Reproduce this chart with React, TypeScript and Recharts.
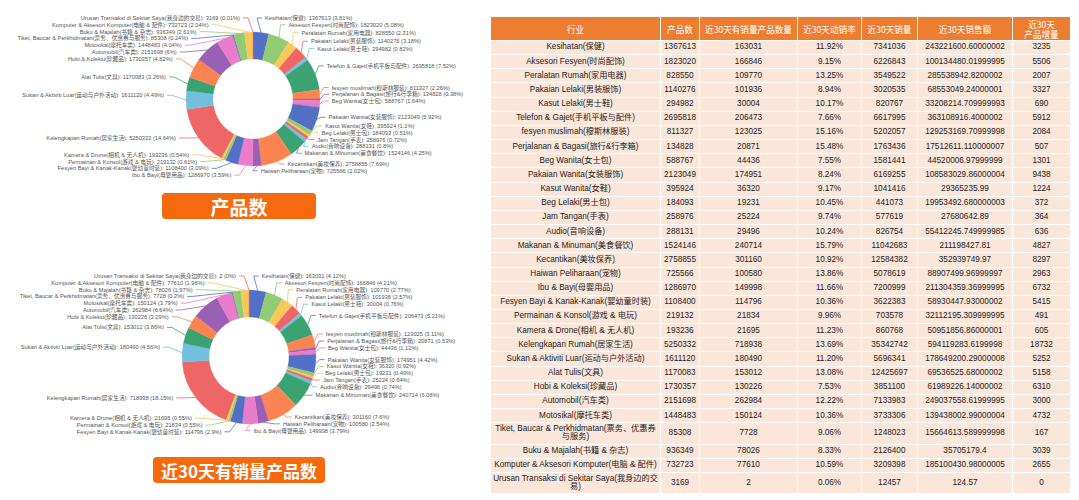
import React from 'react';
import { PieChart, Pie, Cell } from 'recharts';

// category names (same order in both donuts and the table)
const categories = [
  'Kesihatan(保健)',
  'Aksesori Fesyen(时尚配饰)',
  'Peralatan Rumah(家用电器)',
  'Pakaian Lelaki(男装服饰)',
  'Kasut Lelaki(男士鞋)',
  'Telefon & Gajet(手机平板与配件)',
  'fesyen muslimah(穆斯林服装)',
  'Perjalanan & Bagasi(旅行&行李箱)',
  'Beg Wanita(女士包)',
  'Pakaian Wanita(女装服饰)',
  'Kasut Wanita(女鞋)',
  'Beg Lelaki(男士包)',
  'Jam Tangan(手表)',
  'Audio(音响设备)',
  'Makanan & Minuman(美食餐饮)',
  'Kecantikan(美妆保养)',
  'Haiwan Peliharaan(宠物)',
  'Ibu & Bayi(母婴用品)',
  'Fesyen Bayi & Kanak-Kanak(婴幼童时装)',
  'Permainan & Konsol(游戏 & 电玩)',
  'Kamera & Drone(相机 & 无人机)',
  'Kelengkapan Rumah(居家生活)',
  'Sukan & Aktiviti Luar(运动与户外活动)',
  'Alat Tulis(文具)',
  'Hobi & Koleksi(珍藏品)',
  'Automobil(汽车类)',
  'Motosikal(摩托车类)',
  'Tiket, Baucar & Perkhidmatan(票务、优惠券与服务)',
  'Buku & Majalah(书籍 & 杂志)',
  'Komputer & Aksesori Komputer(电脑 & 配件)',
  'Urusan Transaksi di Sekitar Saya(我身边的交易)',
];

const productCount = [
  1367613, 1823020, 828550, 1140276, 294982, 2695818, 811327, 134828, 588767, 2123049, 395924,
  184093, 258976, 288131, 1524146, 2758855, 725566, 1286970, 1108400, 219132, 193236, 5250332,
  1611120, 1170083, 1730357, 2151698, 1448483, 85308, 936349, 732723, 3169,
];

const activeCount = [
  163031, 166846, 109770, 101936, 30004, 206473, 123025, 20871, 44436, 174951, 36320, 19231,
  25224, 29496, 240714, 301160, 100580, 149998, 114796, 21834, 21695, 718938, 180490, 153012,
  130226, 262984, 150124, 7728, 78026, 77610, 2,
];

const activeRate = [
  '11.92%', '9.15%', '13.25%', '8.94%', '10.17%', '7.66%', '15.16%', '15.48%', '7.55%', '8.24%',
  '9.17%', '10.45%', '9.74%', '10.24%', '15.79%', '10.92%', '13.86%', '11.66%', '10.36%', '9.96%',
  '11.23%', '13.69%', '11.20%', '13.08%', '7.53%', '12.22%', '10.36%', '9.06%', '8.33%', '10.59%',
  '0.06%',
];

const sales30 = [
  7341036, 6226843, 3549522, 3020535, 820767, 6617995, 5202057, 1763436, 1581441, 6169255,
  1041416, 441073, 577619, 826754, 11042683, 12584382, 5078619, 7200999, 3622383, 703578, 860768,
  35342742, 5696341, 12425697, 3851100, 7133983, 3733306, 1248023, 2126400, 3209398, 12457,
];

// kept as text, the way the table prints them
const revenue30 = [
  '243221600.60000002', '100134480.01999995', '285538942.8200002', '68553049.24000001',
  '33208214.709999993', '363108916.4000002', '129253169.70999998', '17512611.110000007',
  '44520006.97999999', '108583029.86000004', '29365235.99', '19953492.680000003', '27680642.89',
  '55412245.749999985', '211198427.81', '352939749.97', '88907499.96999997', '211304359.36999995',
  '58930447.93000002', '32112195.309999995', '50951856.86000001', '594119283.6199998',
  '178649200.29000008', '69536525.68000002', '61989226.14000002', '249037558.61999995',
  '139438002.99000004', '15664613.589999998', '35705179.4', '185100430.98000005', '124.57',
];

const newProducts = [
  3235, 5506, 2007, 3327, 690, 5912, 2084, 507, 1301, 9438, 1224, 372, 364, 636, 4827, 8297, 2963,
  6732, 5415, 491, 605, 18732, 5252, 5158, 6310, 3000, 4732, 167, 3039, 2655, 0,
];

const tableHeaders = ['行业', '产品数', '近30天有销量产品数量', '近30天动销率', '近30天销量', '近30天销售额', '近30天\n产品增量'];
const chartTitles = ['产品数', '近30天有销量产品数'];

const PALETTE = ['#5470c6', '#91cc75', '#fac858', '#ee6666', '#73c0de', '#3ba272', '#fc8452', '#9a60b4', '#ea7ccc'];
const CJK_FONT = '"Noto Sans CJK SC", "Noto Sans", sans-serif';
const LATIN_FONT = '"Liberation Sans", "Noto Sans CJK SC", sans-serif';

const INNER = 40;
const OUTER = 67;
const LEN1 = 9;
const LEN2 = 5;
const GAP = 3;
const LINE_H = 6.8;
const RAD = Math.PI / 180;

interface LabelPos {
  dir: number;
  x0: number;
  y0: number;
  x: number;
  y: number;
}

// echarts-like outside label placement: stack labels per side, then bend them onto an ellipse
function layoutLabels(values: number[], cx: number, cy: number): LabelPos[] {
  const R = OUTER + LEN1;
  const total = values.reduce((a, b) => a + b, 0);
  let angle = 90;
  const items: LabelPos[] = values.map((v) => {
    const sweep = (v / total) * 360;
    const mid = angle - sweep / 2;
    angle -= sweep;
    const c = Math.cos(mid * RAD);
    const s = Math.sin(mid * RAD);
    const x0 = cx + R * c;
    const y0 = cy - R * s;
    return { dir: c < 0 ? -1 : 1, x0, y0, x: x0, y: y0 };
  });

  [-1, 1].forEach((dir) => {
    const side = items.filter((d) => d.dir === dir).sort((a, b) => a.y0 - b.y0);
    const groups: { list: LabelPos[]; top: number }[] = [];
    side.forEach((d) => {
      groups.push({ list: [d], top: d.y0 });
      while (groups.length > 1) {
        const b = groups[groups.length - 1];
        const a = groups[groups.length - 2];
        if (a.top + a.list.length * LINE_H <= b.top) break;
        const list = a.list.concat(b.list);
        const top = list.reduce((sum, it, k) => sum + it.y0 - k * LINE_H, 0) / list.length;
        groups.splice(groups.length - 2, 2, { list, top });
      }
    });
    let prev = cy - R - LINE_H;
    let moved = false;
    groups.forEach((g) =>
      g.list.forEach((d, k) => {
        d.y = Math.max(g.top + k * LINE_H, prev + LINE_H);
        prev = d.y;
        if (Math.abs(d.y - d.y0) > 0.01) moved = true;
      })
    );
    if (!moved) return;
    [side.filter((d) => d.y <= cy), side.filter((d) => d.y > cy)].forEach((semi) => {
      let maxDy = -1;
      let rB = R;
      semi.forEach((d) => {
        const dy = Math.abs(d.y - cy);
        if (dy >= maxDy) {
          const dx = Math.abs(d.x0 - cx);
          rB = dx < R ? Math.sqrt((dy * dy) / (1 - (dx * dx) / (R * R))) : R;
          maxDy = dy;
        }
      });
      semi.forEach((d) => {
        const dy = Math.abs(d.y - cy);
        d.x = cx + d.dir * Math.sqrt(Math.max(0, 1 - (dy * dy) / (rB * rB))) * R;
      });
    });
  });
  return items;
}

const makeLabel = (layout: LabelPos[]) => (props: any) => {
  const { cx, cy, midAngle, outerRadius, index, name, value, percent } = props;
  const p = layout[index];
  const ex = cx + outerRadius * Math.cos(-midAngle * RAD);
  const ey = cy + outerRadius * Math.sin(-midAngle * RAD);
  const lx = p.x + p.dir * LEN2;
  const color = PALETTE[index % PALETTE.length];
  return (
    <g key={`label-${index}`}>
      <polyline points={`${ex},${ey} ${p.x},${p.y} ${lx},${p.y}`} fill="none" stroke={color} strokeWidth={0.8} />
      <text
        x={lx + p.dir * GAP}
        y={p.y}
        textAnchor={p.dir < 0 ? 'end' : 'start'}
        dominantBaseline="central"
        fontSize={5.7}
        fontFamily={LATIN_FONT}
        fill="#555"
      >
        {`${name}: ${value} (${+(percent * 100).toFixed(2)}%)`}
      </text>
    </g>
  );
};

interface DonutProps {
  values: number[];
  top: number;
  cx: number;
  cy: number;
}

const Donut: React.FC<DonutProps> = ({ values, top, cx, cy }) => {
  const data = categories.map((name, i) => ({ name, value: values[i] }));
  const layout = layoutLabels(values, cx, cy);
  return (
    <div style={{ position: 'absolute', left: 0, top, width: 480, height: 250 }}>
      <PieChart width={480} height={250}>
        <Pie
          data={data}
          dataKey="value"
          nameKey="name"
          cx={cx}
          cy={cy}
          innerRadius={INNER}
          outerRadius={OUTER}
          startAngle={90}
          endAngle={-270}
          isAnimationActive={false}
          label={makeLabel(layout)}
          labelLine={false}
        >
          {data.map((d, i) => (
            <Cell key={d.name} fill={PALETTE[i % PALETTE.length]} stroke={PALETTE[i % PALETTE.length]} strokeWidth={0.3} />
          ))}
        </Pie>
      </PieChart>
    </div>
  );
};

const Badge: React.FC<{ text: string; left: number; top: number; width: number; size: number }> = ({ text, left, top, width, size }) => (
  <div
    style={{
      position: 'absolute',
      left,
      top,
      width,
      height: 26,
      background: '#f7690e',
      borderRadius: 4,
      color: '#fff',
      fontWeight: 700,
      fontSize: size,
      fontFamily: CJK_FONT,
      display: 'flex',
      alignItems: 'center',
      justifyContent: 'center',
    }}
  >
    {text}
  </div>
);

const COL_W = [170, 39, 98, 64, 56, 95, 58];

const cellBase: React.CSSProperties = {
  boxSizing: 'border-box',
  borderRight: '1px solid #fff',
  borderBottom: '1px solid #fff',
  display: 'flex',
  alignItems: 'center',
  justifyContent: 'center',
  textAlign: 'center',
  padding: '2px 2px',
};

const DataTable: React.FC = () => {
  const rows = categories.map((c, i) => [c, productCount[i], activeCount[i], activeRate[i], sales30[i], revenue30[i], newProducts[i]]);
  return (
    <div
      style={{
        position: 'absolute',
        left: 491,
        top: 17,
        width: COL_W.reduce((a, b) => a + b, 0),
        display: 'grid',
        gridTemplateColumns: COL_W.map((w) => `${w}px`).join(' '),
        gridTemplateRows: `24px repeat(${rows.length}, minmax(14.17px, auto))`,
        fontFamily: LATIN_FONT,
        fontSize: 8.2,
        lineHeight: '8.2px',
        color: '#222',
      }}
    >
      {tableHeaders.map((h) => (
        <div
          key={h}
          style={{ ...cellBase, background: '#ed7d31', color: '#fff', fontFamily: CJK_FONT, fontSize: 8.6, lineHeight: '10px', whiteSpace: 'pre-line' }}
        >
          {h}
        </div>
      ))}
      {rows.map((r, i) =>
        r.map((v, j) => (
          <div key={`${i}-${j}`} style={{ ...cellBase, background: '#fbe6da' }}>
            {v}
          </div>
        ))
      )}
    </div>
  );
};

export default function App() {
  return (
    <div style={{ position: 'absolute', left: 0, top: 0, width: 1079, height: 500, background: '#fff', overflow: 'hidden' }}>
      <Donut values={productCount} top={0} cx={248} cy={94} />
      <Badge text={chartTitles[0]} left={162} top={193} width={154} size={19} />
      <Donut values={activeCount} top={250} cx={244} cy={102} />
      <Badge text={chartTitles[1]} left={153} top={457} width={172} size={17} />
      <DataTable />
    </div>
  );
}
